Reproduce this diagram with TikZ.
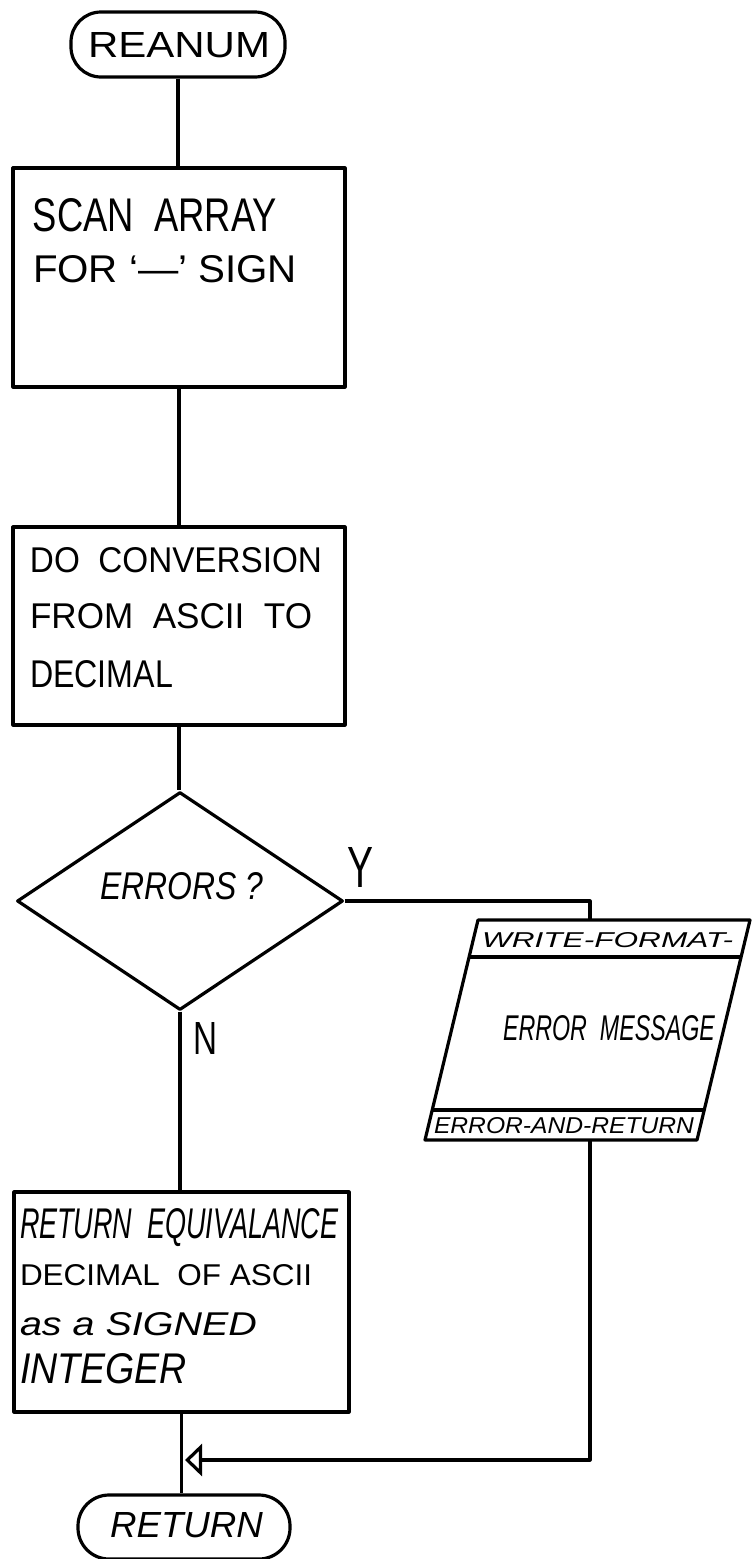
\documentclass[tikz,border=0pt]{standalone}
\usepackage{fontspec}
\setmainfont{Liberation Sans}
\usetikzlibrary{shapes.geometric,arrows.meta}
\newcommand{\fitt}[3]{\resizebox{#1pt}{#2pt}{#3}}
\begin{document}
\begin{tikzpicture}[x=1pt,y=-1pt, line width=3.2pt, line join=round,
  box/.style={draw, rectangle, inner sep=0pt},
  term/.style={draw, rectangle, rounded corners=30pt, inner sep=0pt},
  lbl/.style={anchor=base west, inner sep=0pt, outer sep=0pt},
  dec/.style={draw, diamond, inner sep=0pt},
  tip/.style={-{Triangle[open,length=17pt,width=32pt]}}]
\useasboundingbox (0,0) rectangle (752,1559);
\clip (0,0) rectangle (752,1559);
% shapes
\node[term, minimum width=214pt, minimum height=65pt] (reanum) at (178,44.5) {};
\node[box, minimum width=332pt, minimum height=219pt] (scan) at (179,277.5) {};
\node[box, minimum width=332pt, minimum height=198pt] (conv) at (179,626) {};
\node[dec, minimum width=326pt, minimum height=218pt] (err) at (180,901) {};
\node[box, minimum width=335pt, minimum height=220pt] (ret) at (181.5,1302) {};
\node[term, minimum width=212pt, minimum height=64pt, rounded corners=31pt] (fin) at (184,1527) {};
% parallelogram (output)
\coordinate (pTL) at (478,920);
\coordinate (pTR) at (750,920);
\coordinate (pBR) at (697,1140);
\coordinate (pBL) at (425,1140);
\coordinate (pin) at (590,920);
\coordinate (pout) at (590,1140);
\coordinate (mrg) at (185,1460);
\draw (pTL) -- (pTR) -- (pBR) -- (pBL) -- cycle;
\draw (469,957) -- (741,957);
\draw (432,1110) -- (704,1110);
% connectors
\draw (reanum.south) -- (reanum.south |- scan.north);
\draw (scan.south) -- (scan.south |- conv.north);
\draw (conv.south) -- (conv.south |- err.north);
\draw (err.south) -- (err.south |- ret.north);
\draw (err.east) -| (pin);
\draw[tip] (pout) |- (mrg);
\draw (ret.south) -- (ret.south |- fin.north);
% texts
\node[lbl] (t15) at (88,57) {\fitt{182}{25}{REANUM}};
\node[lbl] (t1) at (33,231) {\fitt{244}{33}{SCAN~~ARRAY}};
\node[lbl] (t2) at (33,282) {\fitt{264}{27}{FOR `---' SIGN}};
\node[lbl] (t3) at (30,572) {\fitt{292}{25}{DO~~CONVERSION}};
\node[lbl] (t4) at (30,628) {\fitt{282}{25}{FROM~~ASCII~~TO}};
\node[lbl] (t5) at (30,687) {\fitt{143}{27}{DECIMAL}};
\node[lbl] (t6) at (100,899) {\fitt{163}{27}{\itshape ERRORS ?}};
\node[lbl] (ty) at (347,887) {\fitt{26}{40}{Y}};
\node[lbl] (tn) at (193,1054) {\fitt{24}{32}{N}};
\node[lbl] (t7) at (482,947) {\fitt{251}{15}{\itshape WRITE-FORMAT-}};
\node[lbl] (t8) at (503,1040) {\fitt{212}{25}{\itshape ERROR~~MESSAGE}};
\node[lbl] (t9) at (434,1133) {\fitt{260}{16}{\itshape ERROR-AND-RETURN}};
\node[lbl] (t10) at (20,1238) {\fitt{318}{30}{\itshape RETURN~~EQUIVALANCE}};
\node[lbl] (t11) at (20,1285) {\fitt{292}{21}{DECIMAL~~OF ASCII}};
\node[lbl] (t12) at (20,1335) {\fitt{237}{23}{\itshape as a SIGNED}};
\node[lbl] (t13) at (20,1383) {\fitt{167}{30}{\itshape INTEGER}};
\node[lbl] (t14) at (110,1537) {\fitt{153}{25}{\itshape RETURN}};
\end{tikzpicture}
\end{document}
